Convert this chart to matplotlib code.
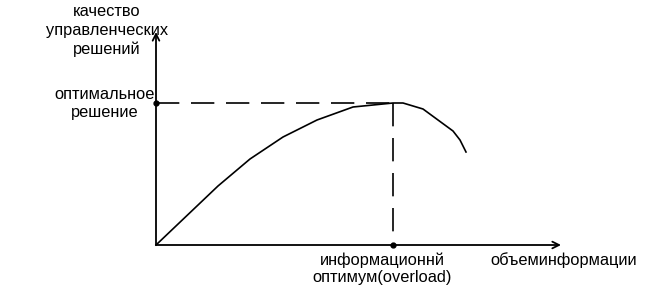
import matplotlib

matplotlib.use("Agg")
import matplotlib.pyplot as plt

# curve: information volume vs. decision quality (pixel-like units from origin)
info_volume = [0, 62, 94, 127, 161, 197, 237, 247, 267, 297, 304, 310]
decision_quality = [0, 59, 86, 108, 125, 138, 142, 142, 136, 114, 105, 93]

optimum_x = 237
optimum_y = 142

y_label = "качество\nуправленческих\nрешений"
opt_label = "оптимальное\nрешение"
x_opt_label = "информационнй\nоптимум(overload)"
x_label = "объеминформации"

plt.rcParams["font.family"] = ["Liberation Sans", "DejaVu Sans"]

fig = plt.figure(figsize=(6.68, 2.91), dpi=100)
ax = fig.add_axes([0, 0, 1, 1])
ax.set_xlim(-156, 512)
ax.set_ylim(-46, 245)
ax.axis("off")

# axes with open arrowheads
ax.annotate("", xy=(405, 0), xytext=(0, 0),
            arrowprops=dict(arrowstyle="->", lw=1.3, color="black",
                            mutation_scale=12, shrinkA=0, shrinkB=0))
ax.annotate("", xy=(0, 213), xytext=(0, 0),
            arrowprops=dict(arrowstyle="->", lw=1.3, color="black",
                            mutation_scale=12, shrinkA=0, shrinkB=0))

ax.plot(info_volume, decision_quality, color="black", lw=1.2)

dash = (14, 7)
ax.plot([0, optimum_x], [optimum_y, optimum_y], color="black", lw=1.2,
        dashes=dash)
ax.plot([optimum_x, optimum_x], [optimum_y, 0], color="black", lw=1.2,
        dashes=dash)
ax.plot([0, optimum_x], [optimum_y, 0], "o", color="black", ms=3.5,
        linestyle="none")

fs = 11.8
ax.text(-49, 241, y_label, ha="center", va="top", fontsize=fs,
        linespacing=1.3)
ax.text(-51, 158, opt_label, ha="center", va="top", fontsize=fs,
        linespacing=1.25)
ax.text(226, -7, x_opt_label, ha="center", va="top", fontsize=fs,
        linespacing=1.2)
ax.text(334, -7, x_label, ha="left", va="top", fontsize=fs)

fig.savefig("out.png", dpi=100)
